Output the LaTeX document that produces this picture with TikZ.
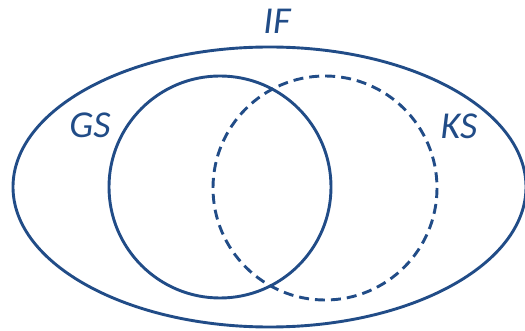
\documentclass[tikz,border=0pt]{standalone}
\usepackage{fontspec}
\setmainfont{Carlito}
\usepackage{xcolor}
\definecolor{setblue}{RGB}{33,76,135}
\usetikzlibrary{positioning}

\begin{document}
\begin{tikzpicture}[x=1pt, y=-1pt,
    setline/.style={draw=setblue, line width=2.9pt},
    setlabel/.style={text=setblue, font=\fontsize{38}{42}\selectfont\itshape, inner sep=0pt}]
    \useasboundingbox (0,0) rectangle (525,331);

    % Sets
    \draw[setline] (269.5,187) ellipse [x radius=256.5, y radius=140];
    \draw[setline] (220,187) circle [radius=111];
    \draw[setline, dash pattern=on 10pt off 6pt] (325,188) circle [radius=112];

    % Labels
    \node[setlabel] (lblIF) at (277,21) {IF};
    \node[setlabel] (lblGS) at (90,125) {GS};
    \node[setlabel] (lblKS) at (459,126) {KS};
\end{tikzpicture}
\end{document}
